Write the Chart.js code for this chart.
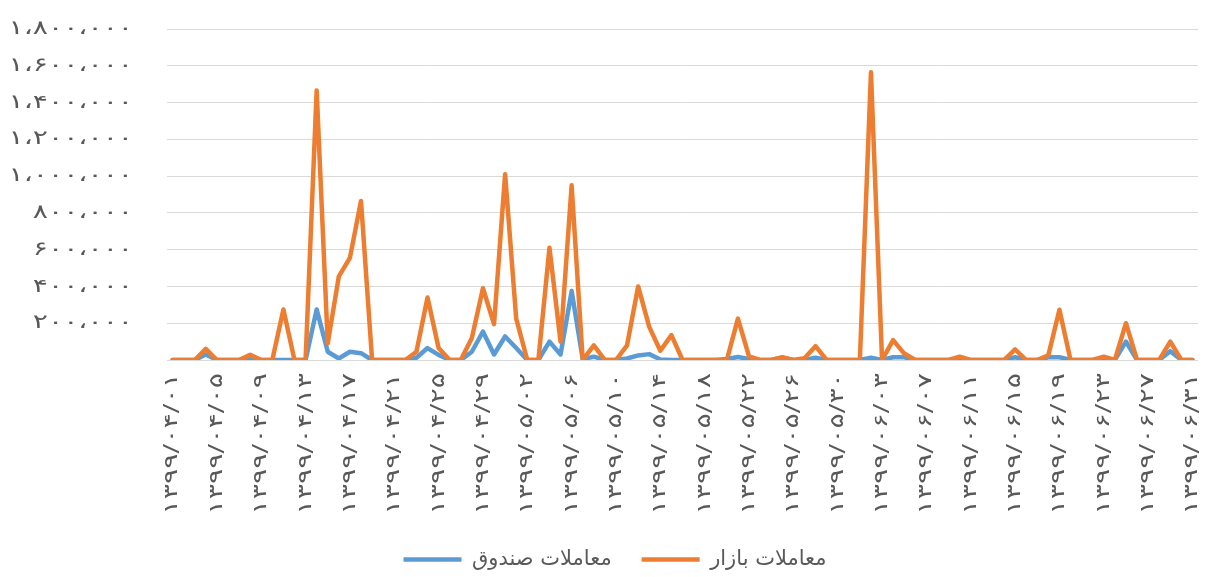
<!DOCTYPE html>
<html>
<head>
<meta charset="utf-8">
<script src="https://cdn.jsdelivr.net/npm/chart.js@4/dist/chart.umd.min.js"></script>
<style>
  html, body { margin: 0; padding: 0; background: #ffffff; }
  #wrap { width: 1213px; height: 577px; position: relative; }
</style>
</head>
<body>
<div id="wrap"><canvas id="c" width="1213" height="577"></canvas></div>
<script>
const dates = [
  '۱۳۹۹/۰۴/۰۱','۱۳۹۹/۰۴/۰۲','۱۳۹۹/۰۴/۰۳','۱۳۹۹/۰۴/۰۴','۱۳۹۹/۰۴/۰۵','۱۳۹۹/۰۴/۰۶','۱۳۹۹/۰۴/۰۷','۱۳۹۹/۰۴/۰۸',
  '۱۳۹۹/۰۴/۰۹','۱۳۹۹/۰۴/۱۰','۱۳۹۹/۰۴/۱۱','۱۳۹۹/۰۴/۱۲','۱۳۹۹/۰۴/۱۳','۱۳۹۹/۰۴/۱۴','۱۳۹۹/۰۴/۱۵','۱۳۹۹/۰۴/۱۶',
  '۱۳۹۹/۰۴/۱۷','۱۳۹۹/۰۴/۱۸','۱۳۹۹/۰۴/۱۹','۱۳۹۹/۰۴/۲۰','۱۳۹۹/۰۴/۲۱','۱۳۹۹/۰۴/۲۲','۱۳۹۹/۰۴/۲۳','۱۳۹۹/۰۴/۲۴',
  '۱۳۹۹/۰۴/۲۵','۱۳۹۹/۰۴/۲۶','۱۳۹۹/۰۴/۲۷','۱۳۹۹/۰۴/۲۸','۱۳۹۹/۰۴/۲۹','۱۳۹۹/۰۴/۳۰','۱۳۹۹/۰۴/۳۱',
  '۱۳۹۹/۰۵/۰۱','۱۳۹۹/۰۵/۰۲','۱۳۹۹/۰۵/۰۳','۱۳۹۹/۰۵/۰۴','۱۳۹۹/۰۵/۰۵','۱۳۹۹/۰۵/۰۶','۱۳۹۹/۰۵/۰۷','۱۳۹۹/۰۵/۰۸',
  '۱۳۹۹/۰۵/۰۹','۱۳۹۹/۰۵/۱۰','۱۳۹۹/۰۵/۱۱','۱۳۹۹/۰۵/۱۲','۱۳۹۹/۰۵/۱۳','۱۳۹۹/۰۵/۱۴','۱۳۹۹/۰۵/۱۵','۱۳۹۹/۰۵/۱۶',
  '۱۳۹۹/۰۵/۱۷','۱۳۹۹/۰۵/۱۸','۱۳۹۹/۰۵/۱۹','۱۳۹۹/۰۵/۲۰','۱۳۹۹/۰۵/۲۱','۱۳۹۹/۰۵/۲۲','۱۳۹۹/۰۵/۲۳','۱۳۹۹/۰۵/۲۴',
  '۱۳۹۹/۰۵/۲۵','۱۳۹۹/۰۵/۲۶','۱۳۹۹/۰۵/۲۷','۱۳۹۹/۰۵/۲۸','۱۳۹۹/۰۵/۲۹','۱۳۹۹/۰۵/۳۰','۱۳۹۹/۰۵/۳۱',
  '۱۳۹۹/۰۶/۰۱','۱۳۹۹/۰۶/۰۲','۱۳۹۹/۰۶/۰۳','۱۳۹۹/۰۶/۰۴','۱۳۹۹/۰۶/۰۵','۱۳۹۹/۰۶/۰۶','۱۳۹۹/۰۶/۰۷','۱۳۹۹/۰۶/۰۸',
  '۱۳۹۹/۰۶/۰۹','۱۳۹۹/۰۶/۱۰','۱۳۹۹/۰۶/۱۱','۱۳۹۹/۰۶/۱۲','۱۳۹۹/۰۶/۱۳','۱۳۹۹/۰۶/۱۴','۱۳۹۹/۰۶/۱۵','۱۳۹۹/۰۶/۱۶',
  '۱۳۹۹/۰۶/۱۷','۱۳۹۹/۰۶/۱۸','۱۳۹۹/۰۶/۱۹','۱۳۹۹/۰۶/۲۰','۱۳۹۹/۰۶/۲۱','۱۳۹۹/۰۶/۲۲','۱۳۹۹/۰۶/۲۳','۱۳۹۹/۰۶/۲۴',
  '۱۳۹۹/۰۶/۲۵','۱۳۹۹/۰۶/۲۶','۱۳۹۹/۰۶/۲۷','۱۳۹۹/۰۶/۲۸','۱۳۹۹/۰۶/۲۹','۱۳۹۹/۰۶/۳۰','۱۳۹۹/۰۶/۳۱'
];

// معاملات بازار (market trades)
const marketTrades = [
  0, 0, 0, 60000, 0, 0, 0, 28000, 0, 0,
  275000, 0, 0, 1465000, 90000, 455000, 555000, 865000, 0, 0,
  0, 0, 45000, 340000, 65000, 0, 0, 120000, 390000, 195000,
  1010000, 225000, 0, 0, 610000, 100000, 950000, 0, 80000, 0,
  0, 80000, 400000, 180000, 50000, 135000, 0, 0, 0, 0,
  0, 225000, 20000, 0, 0, 15000, 0, 10000, 75000, 0,
  0, 0, 0, 1565000, 0, 108000, 35000, 0, 0, 0,
  0, 18000, 0, 0, 0, 0, 58000, 0, 0, 25000,
  273000, 0, 0, 0, 18000, 0, 200000, 0, 0, 0,
  100000, 0, 0
];

// معاملات صندوق (fund trades)
const fundTrades = [
  0, 0, 0, 30000, 0, 0, 0, 10000, 0, 0,
  0, 0, 0, 275000, 45000, 8000, 45000, 37000, 0, 0,
  0, 0, 12000, 65000, 28000, 0, 0, 45000, 155000, 30000,
  128000, 65000, 0, 0, 100000, 30000, 375000, 5000, 18000, 0,
  0, 8000, 25000, 32000, 3000, 0, 0, 0, 0, 0,
  5000, 16000, 5000, 0, 0, 12000, 0, 0, 12000, 0,
  0, 0, 0, 12000, 0, 15000, 15000, 0, 0, 0,
  0, 3000, 0, 0, 0, 0, 15000, 0, 0, 15000,
  15000, 0, 0, 0, 3000, 0, 100000, 0, 0, 0,
  48000, 0, 0
];

const seriesNames = ['معاملات بازار', 'معاملات صندوق'];
const yMax = 1800000;
const yStep = 200000;

const faDigits = ['۰','۱','۲','۳','۴','۵','۶','۷','۸','۹'];
function toFa(n) {
  const s = String(n).replace(/\B(?=(\d{3})+(?!\d))/g, ',');
  return s.replace(/\d/g, d => faDigits[+d]).replace(/,/g, '،');
}

const FONT = "'DejaVu Sans', sans-serif";
const GRAY = '#595959';

// The reference typeface sets Persian digits much wider; Blink ignores
// letterSpacing for Arabic-script runs, so widen tick labels along the text direction.
const tickWiden = {
  id: 'tickWiden',
  beforeDraw(chart) {
    [['x', 1.5], ['y', 1.45]].forEach(([id, sx]) => {
      const s = chart.scales[id];
      if (s && !s._widenPatched) {
        const orig = s.drawLabels;
        s._computeLabelArea = function () { return undefined; };
        s.drawLabels = function (area) {
          const ctx = this.ctx;
          const nativeFill = ctx.fillText;
          ctx.fillText = function (text, x, y, maxWidth) {
            this.save();
            this.translate(x, y);
            this.scale(sx, 1);
            if (maxWidth === undefined) nativeFill.call(this, text, 0, 0);
            else nativeFill.call(this, text, 0, 0, maxWidth / sx);
            this.restore();
          };
          try { orig.call(this, area); } finally { delete ctx.fillText; }
        };
        s._widenPatched = true;
      }
    });
  }
};

new Chart(document.getElementById('c'), {
  type: 'line',
  data: {
    labels: dates,
    datasets: [
      {
        label: seriesNames[0],
        data: marketTrades,
        borderColor: '#ED7D31',
        backgroundColor: '#ED7D31',
        borderWidth: 4.5,
        borderJoinStyle: 'round',
        borderCapStyle: 'round',
        pointRadius: 0,
        tension: 0,
        fill: false
      },
      {
        label: seriesNames[1],
        data: fundTrades,
        borderColor: '#5B9BD5',
        backgroundColor: '#5B9BD5',
        borderWidth: 4.5,
        borderJoinStyle: 'round',
        borderCapStyle: 'round',
        pointRadius: 0,
        tension: 0,
        fill: false
      }
    ]
  },
  plugins: [tickWiden],
  options: {
    responsive: false,
    animation: false,
    events: [],
    layout: { padding: { left: 32, right: 15, top: 29, bottom: -3 } },
    plugins: {
      tooltip: { enabled: false },
      legend: {
        position: 'bottom',
        labels: {
          usePointStyle: true,
          pointStyle: 'line',
          pointStyleWidth: 58,
          color: GRAY,
          font: { family: FONT, size: 21 },
          padding: 30,
          sort: (a, b) => b.datasetIndex - a.datasetIndex
        }
      }
    },
    scales: {
      x: {
        offset: true,
        grid: { display: false, drawTicks: false },
        border: { display: false },
        ticks: {
          autoSkip: false,
          minRotation: 90,
          maxRotation: 90,
          padding: 13,
          color: GRAY,
          font: { family: FONT, size: 19 },
          callback: function (v, i) { return i % 4 === 0 ? dates[i] : ''; }
        },
        afterFit: function (s) { s.height = 159; s.paddingLeft = 0; s.paddingRight = 0; }
      },
      y: {
        min: 0,
        max: yMax,
        grid: { color: '#d9d9d9', lineWidth: 1, drawTicks: false },
        border: { display: false },
        ticks: {
          stepSize: yStep,
          padding: 34,
          color: GRAY,
          font: { family: FONT, size: 19.5 },
          callback: function (v) { return v === 0 ? '' : toFa(v); }
        },
        afterFit: function (s) { s.width = 135; s.paddingTop = 0; s.paddingBottom = 0; }
      }
    }
  }
});
</script>
</body>
</html>
